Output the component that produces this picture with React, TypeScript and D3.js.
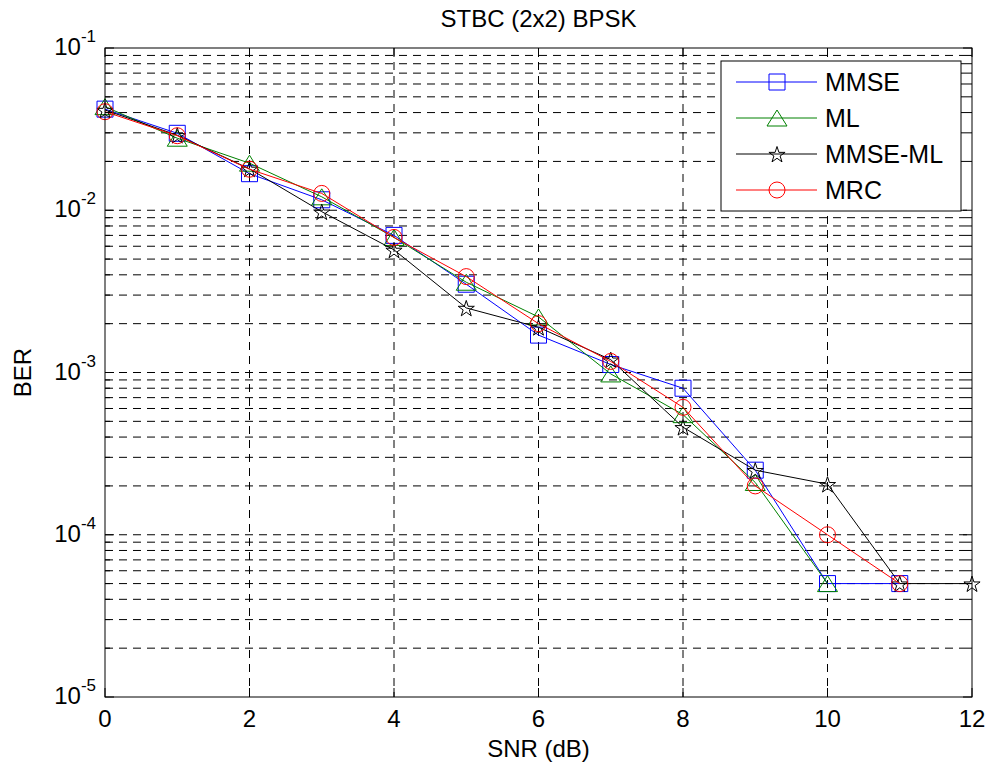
import React from "react";
import * as d3 from "d3";

const snrMMSE = [0, 1, 2, 3, 4, 5, 6, 7, 8, 9, 10, 11];
const berMMSE = [0.042, 0.0298, 0.0168, 0.0116, 0.007, 0.0035, 0.0017, 0.00112, 0.0008, 0.00025, 0.00005, 0.00005];
const snrML = [0, 1, 2, 3, 4, 5, 6, 7, 8, 9, 10];
const berML = [0.0435, 0.0278, 0.0195, 0.0121, 0.0068, 0.0036, 0.0022, 0.00098, 0.00055, 0.00021, 0.00005];
const snrMMSEML = [0, 1, 2, 3, 4, 5, 6, 7, 8, 9, 10, 11, 12];
const berMMSEML = [0.0415, 0.029, 0.018, 0.0098, 0.0057, 0.0025, 0.0019, 0.0012, 0.00046, 0.00025, 0.000205, 0.00005, 0.00005];
const snrMRC = [0, 1, 2, 3, 4, 5, 6, 7, 8, 9, 10, 11];
const berMRC = [0.0405, 0.0288, 0.0179, 0.0127, 0.0068, 0.0039, 0.002, 0.00117, 0.00061, 0.0002, 0.0001, 0.00005];

const seriesNames = ["MMSE", "ML", "MMSE-ML", "MRC"];
const seriesColors = ["#0000ff", "#008000", "#000000", "#ff0000"];
const seriesMarkers = ["square", "triangle", "star", "circle"];
const xTicks = [0, 2, 4, 6, 8, 10, 12];
const yDecades = [-5, -4, -3, -2, -1];

const title = "STBC (2x2) BPSK";
const xLabel = "SNR (dB)";
const yLabel = "BER";

const L = 105, R = 972, T = 48, B = 697;
const FONT = "Arial, 'Liberation Sans', Helvetica, sans-serif";

function markerPath(kind: string): string {
  if (kind === "square") return "M-8,-8H8V8H-8Z";
  if (kind === "triangle") return "M0,-8L10,8L-10,8Z";
  if (kind === "circle") return "M8,0A8,8 0 1,1 -8,0A8,8 0 1,1 8,0Z";
  // pentagram
  const Ro = 8.5, Ri = Ro * 0.382;
  const pts: string[] = [];
  for (let i = 0; i < 10; i++) {
    const r = i % 2 === 0 ? Ro : Ri;
    const a = -Math.PI / 2 + (i * Math.PI) / 5;
    pts.push(`${(r * Math.cos(a)).toFixed(2)},${(r * Math.sin(a) + 1).toFixed(2)}`);
  }
  return "M" + pts.join("L") + "Z";
}

export default function App() {
  const x = d3.scaleLinear().domain([0, 12]).range([L, R]);
  const y = d3.scaleLog().domain([1e-5, 1e-1]).range([B, T]);

  const data = [
    { xs: snrMMSE, ys: berMMSE },
    { xs: snrML, ys: berML },
    { xs: snrMMSEML, ys: berMMSEML },
    { xs: snrMRC, ys: berMRC },
  ];

  const line = d3
    .line<[number, number]>()
    .x((d) => x(d[0]))
    .y((d) => y(d[1]));

  const minorVals: number[] = [];
  yDecades.slice(0, 4).forEach((e) => {
    for (let k = 2; k <= 9; k++) minorVals.push(k * Math.pow(10, e));
  });
  const majorVals = yDecades.map((e) => Math.pow(10, e));

  const dash = "8,6";

  return (
    <svg
      width={990}
      height={765}
      style={{ position: "absolute", left: 0, top: 0, background: "#fff" }}
      fontFamily={FONT}
    >
      <rect x={0} y={0} width={990} height={765} fill="#fff" />
      {/* grid */}
      <g stroke="#000" strokeWidth={1} strokeDasharray={dash} fill="none">
        {xTicks.slice(1, -1).map((t) => (
          <line key={"gx" + t} x1={x(t)} x2={x(t)} y1={T} y2={B} />
        ))}
        {majorVals.slice(1, -1).map((v) => (
          <line key={"gy" + v} x1={L} x2={R} y1={y(v)} y2={y(v)} />
        ))}
        {minorVals.map((v) => (
          <line key={"gm" + v} x1={L} x2={R} y1={y(v)} y2={y(v)} />
        ))}
      </g>
      {/* series */}
      {data.map((s, i) => {
        const pts: [number, number][] = s.xs.map((v, j) => [v, s.ys[j]]);
        return (
          <g key={"s" + i}>
            <path d={line(pts) || ""} fill="none" stroke={seriesColors[i]} strokeWidth={1} />
            {pts.map((p, j) => (
              <path
                key={j}
                d={markerPath(seriesMarkers[i])}
                transform={`translate(${x(p[0])},${y(p[1])})`}
                fill="none"
                stroke={seriesColors[i]}
                strokeWidth={1}
              />
            ))}
          </g>
        );
      })}
      {/* ticks */}
      <g stroke="#000" strokeWidth={1}>
        {xTicks.map((t) => (
          <g key={"tx" + t}>
            <line x1={x(t)} x2={x(t)} y1={B} y2={B - 9} />
            <line x1={x(t)} x2={x(t)} y1={T} y2={T + 9} />
          </g>
        ))}
        {majorVals.map((v) => (
          <g key={"ty" + v}>
            <line x1={L} x2={L + 9} y1={y(v)} y2={y(v)} />
            <line x1={R} x2={R - 9} y1={y(v)} y2={y(v)} />
          </g>
        ))}
        {minorVals.map((v) => (
          <g key={"tm" + v}>
            <line x1={L} x2={L + 5} y1={y(v)} y2={y(v)} />
            <line x1={R} x2={R - 5} y1={y(v)} y2={y(v)} />
          </g>
        ))}
      </g>
      <rect x={L} y={T} width={R - L} height={B - T} fill="none" stroke="#000" strokeWidth={1} />
      {/* tick labels */}
      <g fontSize={24} fill="#000">
        {xTicks.map((t) => (
          <text key={"lx" + t} x={x(t)} y={B + 30} textAnchor="middle">
            {t}
          </text>
        ))}
        {yDecades.map((e) => (
          <text key={"ly" + e} x={96} y={y(Math.pow(10, e)) + 7} textAnchor="end">
            10
            <tspan fontSize={17} dy={-13}>
              {String(e)}
            </tspan>
          </text>
        ))}
      </g>
      {/* labels */}
      <text x={(L + R) / 2} y={27} textAnchor="middle" fontSize={24}>
        {title}
      </text>
      <text x={(L + R) / 2} y={757} textAnchor="middle" fontSize={24}>
        {xLabel}
      </text>
      <text
        transform={`translate(31,${(T + B) / 2}) rotate(-90)`}
        textAnchor="middle"
        fontSize={24}
      >
        {yLabel}
      </text>
      {/* legend */}
      <g>
        <rect x={721} y={61} width={240} height={150} fill="#fff" stroke="#000" strokeWidth={1} />
        {seriesNames.map((n, i) => {
          const cy = 82 + i * 36;
          return (
            <g key={"lg" + n}>
              <line x1={736} x2={817} y1={cy} y2={cy} stroke={seriesColors[i]} strokeWidth={1} />
              <path
                d={markerPath(seriesMarkers[i])}
                transform={`translate(777,${cy})`}
                fill="none"
                stroke={seriesColors[i]}
                strokeWidth={1}
              />
              <text x={825} y={cy + 9} fontSize={25} fill="#000">
                {n}
              </text>
            </g>
          );
        })}
      </g>
    </svg>
  );
}
